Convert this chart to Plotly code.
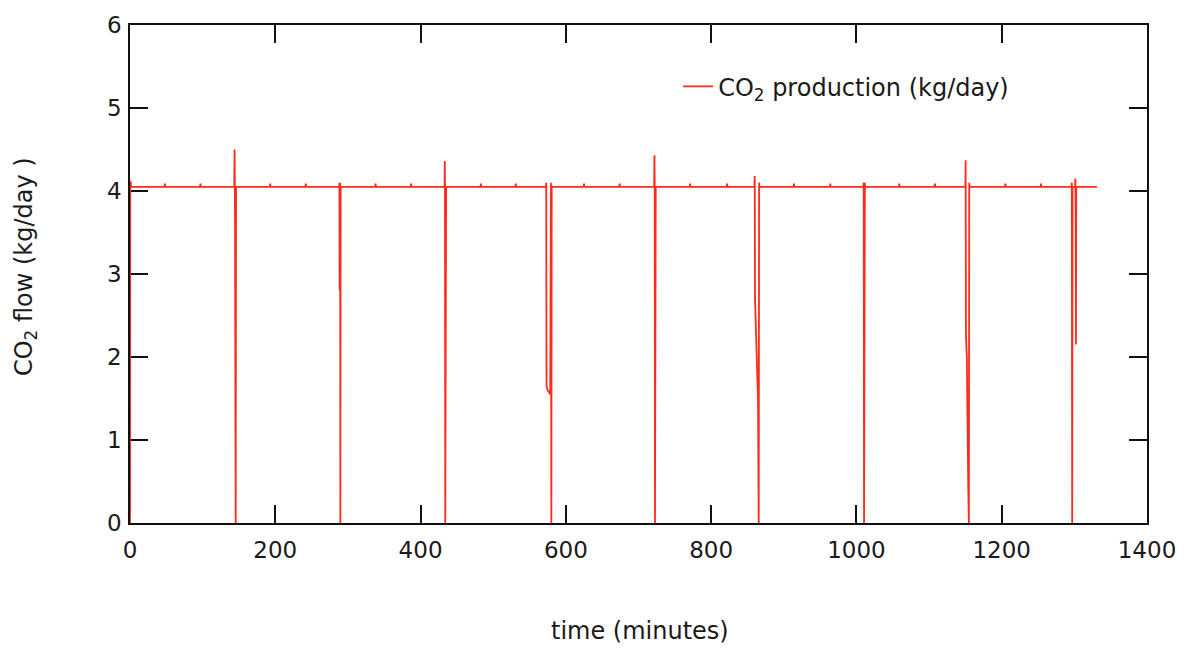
import plotly.graph_objects as go

# time (minutes) and CO2 production (kg/day)
time_min = [
    0, 0.3, 0.6, 0.9, 1.5,
    47.5, 48, 48.5, 96.5, 97, 97.5,
    143.5, 144, 144.3, 144.6, 145, 145.5, 146,
    192.5, 193, 193.5, 241.5, 242, 242.5,
    288, 288.3, 288.6, 289.0, 289.3, 289.6, 290,
    337.5, 338, 338.5, 386.5, 387, 387.5,
    433, 433.3, 433.6, 434, 434.4, 434.8, 435.2,
    482.5, 483, 483.5, 530.5, 531, 531.5,
    572.5, 573, 573.4, 575, 578.5, 579.5, 580, 580.5,
    624.5, 625, 625.5, 673.5, 674, 674.5,
    721.5, 722, 722.3, 722.7, 723, 723.3, 723.7,
    770.5, 771, 771.5, 821.5, 822, 822.5,
    859.5, 860, 860.4, 861.5, 864.5, 865.5, 866, 866.5,
    913.5, 914, 914.5, 963.5, 964, 964.5,
    1009.5, 1010, 1010.5, 1010.8, 1011.2, 1011.6, 1012,
    1058.5, 1059, 1059.5, 1107.5, 1108, 1108.5,
    1150, 1150.3, 1150.8, 1152, 1154, 1154.8, 1155.3, 1155.7,
    1204.5, 1205, 1205.5, 1253.5, 1254, 1254.5,
    1296, 1296.5, 1297, 1297.5, 1301, 1301.4, 1301.8, 1302.2, 1302.6,
    1331,
]
co2_kg_day = [
    0, 4.12, 2.8, 4.1, 4.05,
    4.05, 4.09, 4.05, 4.05, 4.09, 4.05,
    4.05, 4.5, 4.05, 3.6, 0, 0, 4.05,
    4.05, 4.09, 4.05, 4.05, 4.09, 4.05,
    4.05, 4.1, 2.8, 2.85, 4.1, 0, 4.05,
    4.05, 4.09, 4.05, 4.05, 4.09, 4.05,
    4.05, 4.36, 4.05, 0, 4.05, 0, 4.05,
    4.05, 4.09, 4.05, 4.05, 4.09, 4.05,
    4.05, 4.1, 1.65, 1.6, 1.55, 4.1, 0, 4.05,
    4.05, 4.09, 4.05, 4.05, 4.09, 4.05,
    4.05, 4.43, 4.05, 0, 4.05, 0, 4.05,
    4.05, 4.09, 4.05, 4.05, 4.09, 4.05,
    4.05, 4.18, 2.7, 2.35, 1.5, 0, 4.1, 4.05,
    4.05, 4.09, 4.05, 4.05, 4.09, 4.05,
    4.05, 4.1, 0, 4.05, 0, 4.1, 4.05,
    4.05, 4.09, 4.05, 4.05, 4.09, 4.05,
    4.05, 4.37, 2.25, 2.0, 0.4, 0, 4.1, 4.05,
    4.05, 4.09, 4.05, 4.05, 4.09, 4.05,
    4.05, 4.1, 0, 4.05, 4.05, 4.15, 3.7, 2.15, 4.05,
    4.05,
]
x_ticks = [0, 200, 400, 600, 800, 1000, 1200, 1400]
y_ticks = [0, 1, 2, 3, 4, 5, 6]

FONT = "DejaVu Sans"
TXT = "#1a1a1a"

fig = go.Figure()
fig.add_trace(go.Scatter(
    x=time_min, y=co2_kg_day, mode="lines",
    name="CO<sub>2</sub> production (kg/day)",
    line=dict(color="#FF2A1A", width=1.8),
))

axis_common = dict(
    showgrid=False, zeroline=False,
    showline=True, linecolor="#111111", linewidth=1.6,
    mirror="ticks", ticks="inside", ticklen=18, tickwidth=1.6, tickcolor="#111111",
    tickfont=dict(family=FONT, size=23, color=TXT),
    layer="below traces",
)
fig.update_xaxes(range=[0, 1400], tickvals=x_ticks, ticklabelstandoff=6, **axis_common)
fig.update_yaxes(range=[0, 6], tickvals=y_ticks, ticklabelstandoff=2, **axis_common)

fig.update_layout(
    width=1189, height=648,
    margin=dict(l=130, r=42, t=15, b=125),
    paper_bgcolor="white", plot_bgcolor="white",
    font=dict(family=FONT, size=23, color=TXT),
    showlegend=True,
    legend=dict(x=0.539, y=0.876, xanchor="left", yanchor="middle",
                bgcolor="rgba(0,0,0,0)", font=dict(family=FONT, size=24, color=TXT)),
    annotations=[
        dict(text="time (minutes)", xref="paper", yref="paper",
             x=0.5015, y=-0.2165, xanchor="center", yanchor="middle",
             showarrow=False, font=dict(family=FONT, size=24, color=TXT)),
        dict(text="CO<sub>2</sub> flow (kg/day )", xref="paper", yref="paper",
             x=-0.1032, y=0.514, xanchor="center", yanchor="middle", textangle=-90,
             showarrow=False, font=dict(family=FONT, size=24, color=TXT)),
    ],
)

fig.write_html("out.html", config={"displayModeBar": False},
               post_script="document.body.style.margin='0';")
